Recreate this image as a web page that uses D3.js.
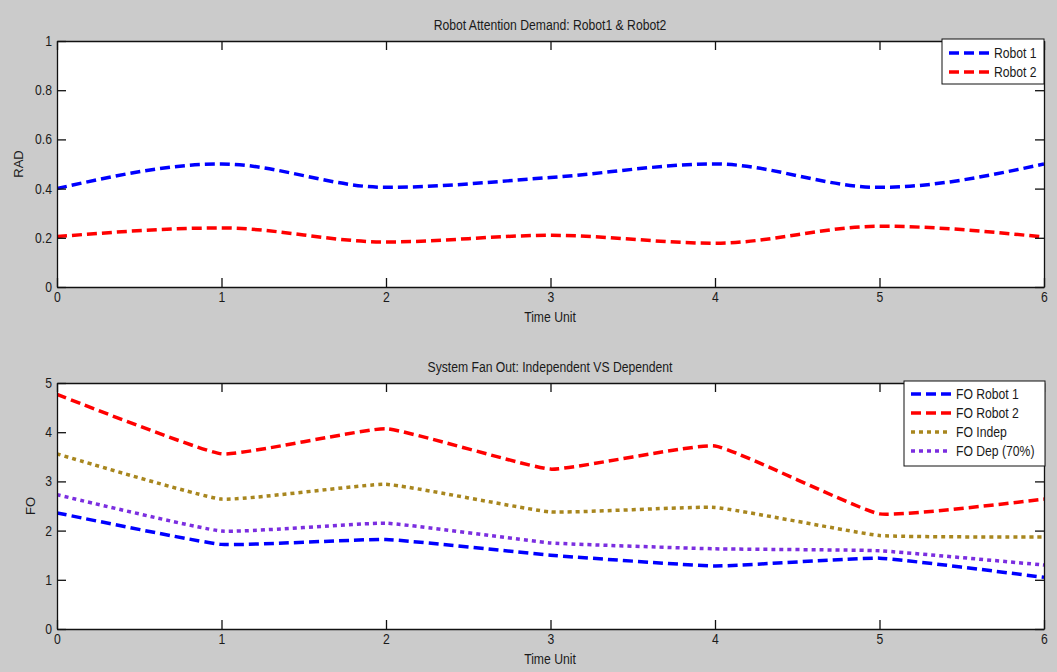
<!DOCTYPE html>
<html>
<head>
<meta charset="utf-8">
<script src="https://cdnjs.cloudflare.com/ajax/libs/d3/7.8.5/d3.min.js"></script>
<style>
  html, body { margin: 0; padding: 0; background: #cbcbcb; }
  svg { display: block; }
  text { font-family: "Liberation Sans", Arial, sans-serif; fill: #1a1a1a; }
</style>
</head>
<body>
<svg id="fig" width="1057" height="672"></svg>
<script>
// Time axis shared by both panels
const timeUnits = [0, 1, 2, 3, 4, 5, 6];

// Panel 1: robot attention demand
const radRobot1 = [0.40, 0.50, 0.405, 0.445, 0.50, 0.405, 0.50];
const radRobot2 = [0.205, 0.24, 0.183, 0.21, 0.178, 0.247, 0.203];
const radTicks = [0, 0.2, 0.4, 0.6, 0.8, 1];

// Panel 2: system fan out
const foRobot1 = [2.36, 1.72, 1.82, 1.50, 1.28, 1.44, 1.05];
const foRobot2 = [4.77, 3.56, 4.07, 3.25, 3.72, 2.34, 2.64];
const foIndep  = [3.56, 2.64, 2.94, 2.38, 2.47, 1.90, 1.87];
const foDep    = [2.73, 1.99, 2.15, 1.75, 1.63, 1.59, 1.30];
const foTicks = [0, 1, 2, 3, 4, 5];

const svg = d3.select("#fig");
const dashed = "10,5", dotted = "4,4";
const FS = 14;      // font size for labels
const SX = 0.87;    // horizontal squeeze of the lettering

// narrow lettering: scale text horizontally about its own origin
function squeeze(sel) {
  sel.each(function () {
    const t = d3.select(this);
    const x = +(t.attr("x") || 0);
    t.attr("x", x / SX).attr("transform", `scale(${SX},1)`);
  });
}

function drawPanel(cfg) {
  const x = d3.scaleLinear().domain([0, 6]).range([57, 1044]);
  const y = d3.scaleLinear().domain(cfg.yDomain).range([cfg.bottom, cfg.top]);
  const g = svg.append("g");

  // plot area
  g.append("rect")
    .attr("x", x(0)).attr("y", cfg.top)
    .attr("width", x(6) - x(0)).attr("height", cfg.bottom - cfg.top)
    .attr("fill", "#ffffff");

  // series
  const clipId = "clip" + cfg.top;
  g.append("clipPath").attr("id", clipId).append("rect")
    .attr("x", x(0)).attr("y", cfg.top)
    .attr("width", x(6) - x(0)).attr("height", cfg.bottom - cfg.top);
  const line = d3.line()
    .x((d, i) => x(timeUnits[i]))
    .y(d => y(d))
    .curve(cfg.curve);
  cfg.series.forEach(s => {
    g.append("path")
      .attr("clip-path", `url(#${clipId})`)
      .attr("d", line(s.values))
      .attr("fill", "none")
      .attr("stroke", s.color)
      .attr("stroke-width", 3.5)
      .attr("stroke-dasharray", s.dash);
  });

  // axes with inward ticks on all four sides
  const tl = 9;
  const axB = g.append("g").attr("transform", `translate(0,${cfg.bottom})`)
    .call(d3.axisBottom(x).tickValues(timeUnits).tickSizeInner(-tl).tickSizeOuter(0).tickPadding(5).tickFormat(d3.format("d")));
  const axT = g.append("g").attr("transform", `translate(0,${cfg.top})`)
    .call(d3.axisTop(x).tickValues(timeUnits).tickSizeInner(-tl).tickSizeOuter(0).tickFormat(""));
  const axL = g.append("g").attr("transform", `translate(${x(0)},0)`)
    .call(d3.axisLeft(y).tickValues(cfg.yTicks).tickSizeInner(-tl).tickSizeOuter(0).tickPadding(5).tickFormat(d => String(+d.toFixed(1))));
  const axR = g.append("g").attr("transform", `translate(${x(6)},0)`)
    .call(d3.axisRight(y).tickValues(cfg.yTicks).tickSizeInner(-tl).tickSizeOuter(0).tickFormat(""));
  [axB, axT, axL, axR].forEach(a => {
    a.select(".domain").attr("stroke", "#111").attr("stroke-width", 1.3);
    a.selectAll(".tick line").attr("stroke", "#111").attr("stroke-width", 1.3);
    a.selectAll("text").attr("font-size", FS).attr("fill", "#1a1a1a")
      .style("font-family", '"Liberation Sans", Arial, sans-serif');
  });
  squeeze(axB.selectAll("text"));
  squeeze(axL.selectAll("text"));

  // titles
  squeeze(g.append("text").attr("x", 550).attr("y", cfg.top - 11)
    .attr("text-anchor", "middle").attr("font-size", FS).text(cfg.title));
  squeeze(g.append("text").attr("x", 550).attr("y", cfg.bottom + 35)
    .attr("text-anchor", "middle").attr("font-size", FS).text("Time Unit"));
  g.append("text")
    .attr("transform", `translate(${cfg.yLabelX},${(cfg.top + cfg.bottom) / 2}) rotate(-90)`)
    .attr("text-anchor", "middle").attr("dy", "0.35em").attr("font-size", 13).text(cfg.yLabel);

  // legend
  const L = cfg.legend;
  const lg = g.append("g");
  lg.append("rect").attr("x", L.x).attr("y", L.y).attr("width", L.w).attr("height", L.h)
    .attr("fill", "#ffffff").attr("stroke", "#111").attr("stroke-width", 1);
  cfg.series.forEach((s, i) => {
    const yy = L.y + L.first + i * L.step;
    lg.append("line").attr("x1", L.x + 7).attr("x2", L.x + 47).attr("y1", yy).attr("y2", yy)
      .attr("stroke", s.color).attr("stroke-width", 3.5).attr("stroke-dasharray", s.dash);
    squeeze(lg.append("text").attr("x", L.x + 52).attr("y", yy).attr("dy", "0.35em")
      .attr("font-size", FS).text(s.name));
  });
}

drawPanel({
  top: 41, bottom: 287, yDomain: [0, 1], yTicks: radTicks, curve: d3.curveMonotoneX,
  title: "Robot Attention Demand: Robot1 & Robot2", yLabel: "RAD", yLabelX: 18,
  series: [
    { name: "Robot 1", values: radRobot1, color: "#0000ff", dash: dashed },
    { name: "Robot 2", values: radRobot2, color: "#ff0000", dash: dashed }
  ],
  legend: { x: 942, y: 39, w: 102, h: 45, first: 14, step: 19 }
});

drawPanel({
  top: 383, bottom: 629, yDomain: [0, 5], yTicks: foTicks, curve: d3.curveCardinal.tension(0.65),
  title: "System Fan Out: Independent VS Dependent", yLabel: "FO", yLabelX: 30,
  series: [
    { name: "FO Robot 1", values: foRobot1, color: "#0000ff", dash: dashed },
    { name: "FO Robot 2", values: foRobot2, color: "#ff0000", dash: dashed },
    { name: "FO Indep", values: foIndep, color: "#a8861e", dash: dotted },
    { name: "FO Dep (70%)", values: foDep, color: "#7b2ee0", dash: dotted }
  ],
  legend: { x: 904, y: 381, w: 141, h: 85, first: 13, step: 19 }
});
</script>
</body>
</html>
